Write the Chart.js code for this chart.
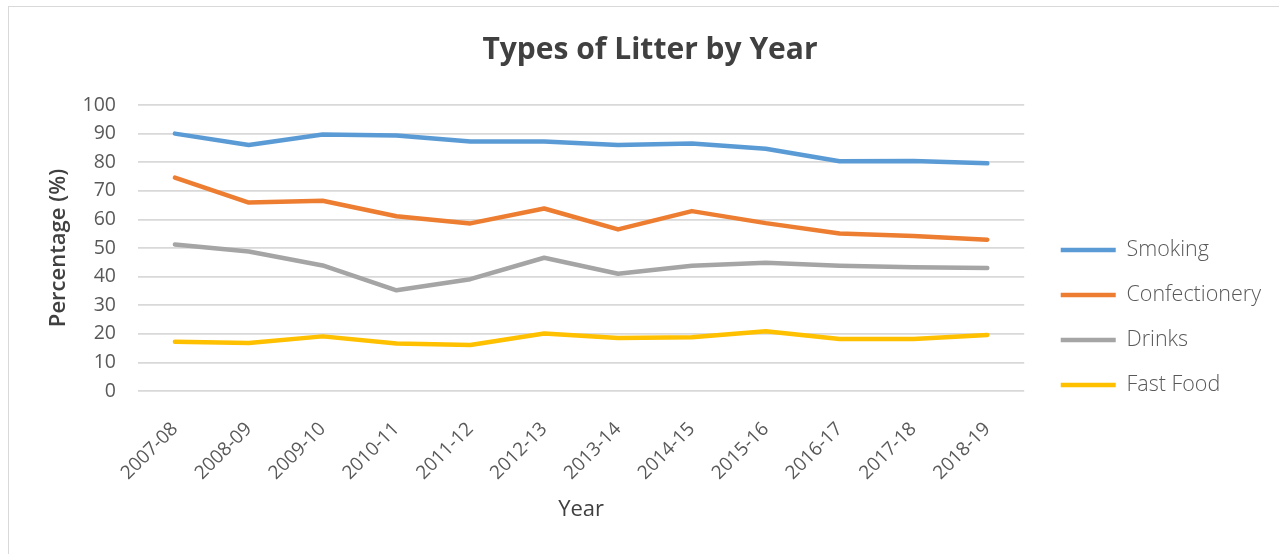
<!DOCTYPE html>
<html>
<head>
<meta charset="utf-8">
<script src="https://cdn.jsdelivr.net/npm/chart.js@4.4.1/dist/chart.umd.min.js"></script>
<style>
  html, body { margin: 0; padding: 0; background: #ffffff; }
  body { width: 1279px; height: 554px; overflow: hidden; position: relative; }
  #frame { position: absolute; left: 8px; top: 6px; width: 1290px; height: 560px; border: 1px solid #d9d9d9; box-sizing: border-box; }
  #wrap { position: absolute; left: 0; top: 0; width: 1279px; height: 554px; }
</style>
</head>
<body>
<div id="frame"></div>
<div id="wrap"><canvas id="c"></canvas></div>
<script>
const categories = ["2007-08","2008-09","2009-10","2010-11","2011-12","2012-13","2013-14","2014-15","2015-16","2016-17","2017-18","2018-19"];
const smoking       = [90.0, 86.0, 89.7, 89.3, 87.2, 87.2, 86.0, 86.5, 84.7, 80.3, 80.4, 79.6];
const confectionery = [74.6, 65.9, 66.5, 61.1, 58.6, 63.8, 56.5, 62.9, 58.7, 55.1, 54.2, 52.9];
const drinks        = [51.2, 48.8, 43.9, 35.2, 39.1, 46.6, 41.0, 43.8, 44.8, 43.8, 43.3, 43.0];
const fastFood      = [17.2, 16.8, 19.1, 16.6, 16.1, 20.1, 18.5, 18.8, 20.9, 18.2, 18.2, 19.6];
const yTicks = [0,10,20,30,40,50,60,70,80,90,100];

const FONT = "'Open Sans', 'DejaVu Sans', sans-serif";
const TXT = "#595959";

function ds(label, data, color) {
  return { label, data, borderColor: color, backgroundColor: color, borderWidth: 4.5,
           pointRadius: 0, pointHoverRadius: 0, tension: 0, fill: false,
           borderCapStyle: 'round', borderJoinStyle: 'round' };
}

const legendShift = {
  id: 'legendShift',
  afterLayout(chart) {
    const lg = chart.legend;
    if (lg) { lg.top += 44; lg.bottom += 44; lg.left += 13; lg.right += 13; }
  }
};

new Chart(document.getElementById('c'), {
  type: 'line',
  plugins: [legendShift],
  data: {
    labels: categories,
    datasets: [
      ds('Smoking', smoking, '#5B9BD5'),
      ds('Confectionery', confectionery, '#ED7D31'),
      ds('Drinks', drinks, '#A5A5A5'),
      ds('Fast Food', fastFood, '#FFC000')
    ]
  },
  options: {
    responsive: true,
    maintainAspectRatio: false,
    animation: false,
    layout: { padding: { left: 42, right: 21, top: 24, bottom: 31 } },
    plugins: {
      title: {
        display: true, text: 'Types of Litter by Year',
        color: '#404040', font: { family: FONT, size: 30, weight: '700' },
        padding: { top: 8, bottom: 37 }
      },
      legend: {
        position: 'right',
        labels: {
          usePointStyle: true, pointStyle: 'line', pointStyleWidth: 55,
          color: TXT, font: { family: FONT, size: 21.5, weight: '300' },
          padding: 23.5, boxHeight: 21.5
        }
      },
      tooltip: { enabled: false }
    },
    scales: {
      x: {
        offset: true,
        afterFit: (axis) => { axis.paddingLeft = 0; axis.paddingRight = 0; axis.height = 132; },
        grid: { display: false, drawTicks: false },
        border: { display: false },
        ticks: { color: TXT, font: { family: FONT, size: 19, weight: '400' }, minRotation: 45, maxRotation: 45, padding: 27, autoSkip: false },
        title: { display: true, text: 'Year', color: '#404040', font: { family: FONT, size: 22, weight: '400' }, padding: { top: 0, bottom: 0 } }
      },
      y: {
        min: 0, max: 100,
        afterBuildTicks: (axis) => { axis.ticks = yTicks.map(v => ({ value: v })); },
        afterFit: (axis) => { axis.width = 96; },
        grid: { color: '#d9d9d9', lineWidth: 1.8, drawTicks: false },
        border: { display: false },
        ticks: { color: TXT, font: { family: FONT, size: 19.5, weight: '400' }, padding: 22 },
        title: { display: true, text: 'Percentage (%)', color: '#404040', font: { family: FONT, size: 22, weight: '600' }, padding: { top: 4, bottom: 0 } }
      }
    }
  }
});
</script>
</body>
</html>
